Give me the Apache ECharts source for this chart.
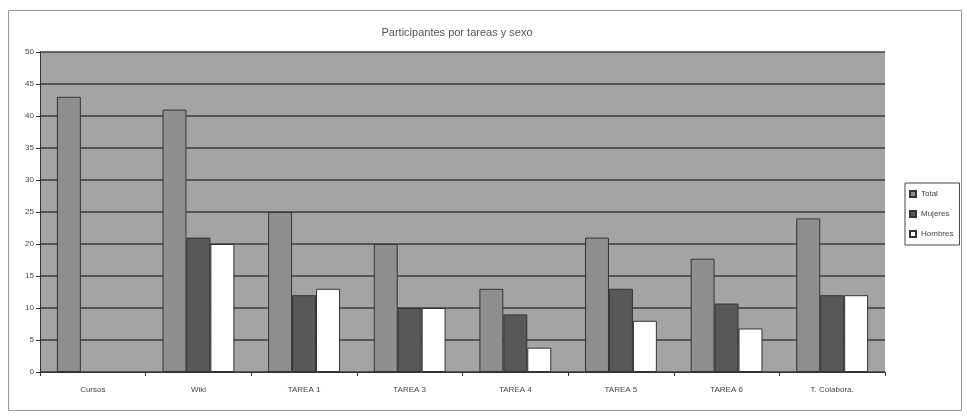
<!DOCTYPE html>
<html><head><meta charset="utf-8">
<script src="https://cdn.jsdelivr.net/npm/echarts@6/dist/echarts.min.js"></script>
<style>html,body{margin:0;padding:0;background:#fff}#c{width:967px;height:420px}</style>
</head><body><div id="c"></div>
<script>
const categories = ['Cursos','Wiki','TAREA 1','TAREA 3','TAREA 4','TAREA 5','TAREA 6','T. Colabora.'];
const total    = [43, 41, 25, 20, 13, 21, 17.7, 24];
const mujeres  = [null, 21, 12, 10, 9, 13, 10.7, 12];
const hombres  = [null, 20, 13, 10, 3.8, 8, 6.8, 12];
const yTicks = [0,5,10,15,20,25,30,35,40,45,50];

const chart = echarts.init(document.getElementById('c'));
const bar = (name, data, color) => ({
  name, type:'bar', data, barGap:'0%', barCategoryGap:'32%',
  itemStyle:{color, borderColor:'#333', borderWidth:1}
});
chart.setOption({
  animation:false,
  title:{text:'Participantes por tareas y sexo', left:452, top:22, textAlign:'center',
    textStyle:{fontSize:11, fontWeight:'normal', color:'#555', fontFamily:'Liberation Sans'}},
  legend:{orient:'vertical', left:905, top:183, itemWidth:6, itemHeight:6, itemGap:12, icon:'rect',
    padding:[7,6,7,4], borderColor:'#444', borderWidth:1,
    textStyle:{fontSize:8, color:'#444', fontFamily:'Liberation Sans'},
    data:['Total','Mujeres','Hombres']},
  grid:{left:40, right:82, top:52, bottom:48, show:true, backgroundColor:'#a4a4a4', borderWidth:0},
  xAxis:{type:'category', data:categories,
    axisLine:{lineStyle:{color:'#333', width:1}},
    axisTick:{show:true, length:4, lineStyle:{color:'#333'}},
    axisLabel:{fontSize:8, color:'#444', margin:14, fontFamily:'Liberation Sans'}},
  yAxis:{type:'value', min:0, max:50, interval:5,
    axisLine:{show:true, lineStyle:{color:'#333', width:1}},
    axisTick:{show:true, length:4, lineStyle:{color:'#333'}},
    axisLabel:{fontSize:8, color:'#444', margin:6, fontFamily:'Liberation Sans',
      formatter:v=>yTicks.includes(v)?String(v):''},
    splitLine:{lineStyle:{color:'#3c3c3c', width:1.5}}},
  series:[bar('Total', total, '#8e8e8e'), bar('Mujeres', mujeres, '#585858'), bar('Hombres', hombres, '#ffffff')],
  graphic:[{type:'rect', shape:{x:8.5, y:10.5, width:953, height:400},
    style:{fill:null, stroke:'#999', lineWidth:1}, silent:true}]
});
</script></body></html>
